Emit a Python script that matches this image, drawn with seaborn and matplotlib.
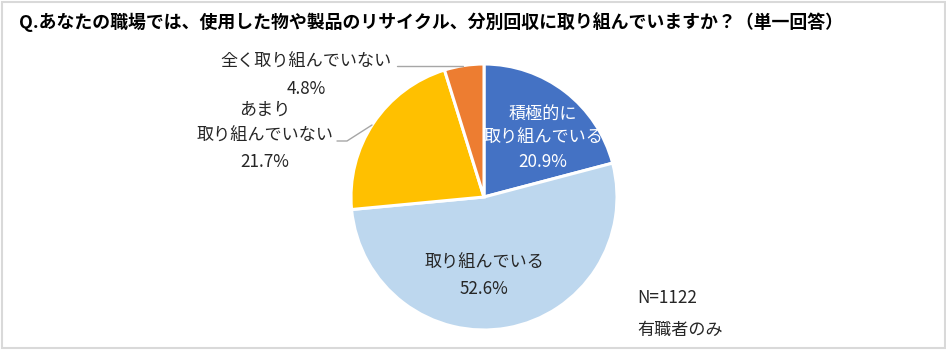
import matplotlib
matplotlib.use("Agg")
import matplotlib.pyplot as plt
from matplotlib.patches import Rectangle
import seaborn as sns

sns.set_theme(style="white")
plt.rcParams['font.family'] = ['Noto Sans CJK JP', 'DejaVu Sans']

title = "Q.あなたの職場では、使用した物や製品のリサイクル、分別回収に取り組んでいますか？（単一回答）"
categories = ["積極的に\n取り組んでいる", "取り組んでいる", "あまり\n取り組んでいない", "全く取り組んでいない"]
values = [20.9, 52.6, 21.7, 4.8]
colors = ["#4472C4", "#BDD7EE", "#FFC000", "#ED7D31"]
note = ["N=1122", "有職者のみ"]

W, H = 946, 351
fig = plt.figure(figsize=(W / 100, H / 100), dpi=100)
ax = fig.add_axes([0, 0, 1, 1])

def Y(y):
    return H - y

cx, cy, r = 484, 197, 133
wedges, _ = ax.pie(values, colors=colors, startangle=90, counterclock=False,
                   center=(cx, Y(cy)), radius=r,
                   wedgeprops=dict(edgecolor="white", linewidth=2.2))
ax.set_xlim(0, W)
ax.set_ylim(0, H)
ax.set_aspect('equal')
ax.axis('off')

ax.add_patch(Rectangle((1.5, 3), W - 3, H - 4.5, fill=False, edgecolor="#D9D9D9", linewidth=1.5))

ax.text(19, Y(22), title, fontsize=12.9, fontweight="bold", ha="left", va="center", color="#000000")

fs = 12.3
pct = [f"{v}%" for v in values]
ax.text(543, Y(138), categories[0] + "\n" + pct[0], ha="center", va="center", color="white",
        fontsize=fs, linespacing=1.45)
ax.text(484, Y(276), categories[1] + "\n" + pct[1], ha="center", va="center", color="#262626",
        fontsize=fs, linespacing=1.6)
ax.text(306, Y(75), categories[3] + "\n" + pct[3], ha="center", va="center", color="#262626",
        fontsize=fs, linespacing=1.65)
ax.text(265, Y(136), categories[2] + "\n" + pct[2], ha="center", va="center", color="#262626",
        fontsize=fs, linespacing=1.6)
ax.plot([397, 463], [Y(66), Y(66)], color="#A6A6A6", linewidth=1)
ax.plot([337, 347, 372], [Y(141), Y(141), Y(125)], color="#A6A6A6", linewidth=1)

ax.text(637, Y(298), note[0], ha="left", va="center", color="#262626", fontsize=fs)
ax.text(637, Y(330), note[1], ha="left", va="center", color="#262626", fontsize=fs)

fig.savefig("out.png", dpi=100)
